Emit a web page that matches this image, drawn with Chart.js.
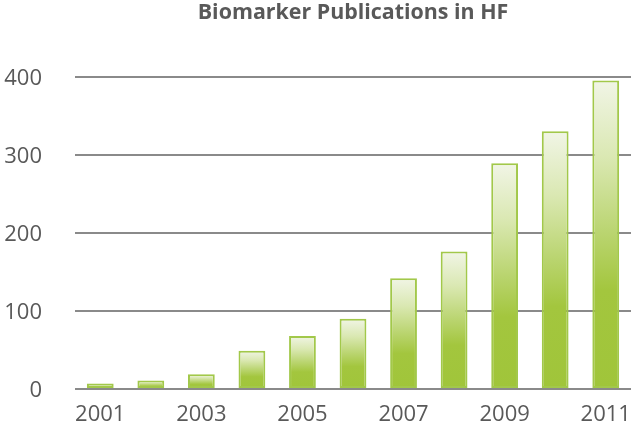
<!DOCTYPE html>
<html>
<head>
<meta charset="utf-8">
<script src="https://cdn.jsdelivr.net/npm/chart.js@4/dist/chart.umd.min.js"></script>
<style>
html,body{margin:0;padding:0;background:#fff;}
#wrap{width:636px;height:432px;position:relative;}
</style>
</head>
<body>
<div id="wrap"><canvas id="c" width="636" height="432"></canvas></div>
<script>
const years = ['2001','2002','2003','2004','2005','2006','2007','2008','2009','2010','2011'];
const publications = [7, 11, 19, 49, 68, 90, 142, 176, 289, 330, 395];
const yTicks = [0, 100, 200, 300, 400];
const shownYearLabels = ['2001','2003','2005','2007','2009','2011'];

function barGradient(ctx) {
  const chart = ctx.chart;
  const area = chart.chartArea;
  if (!area || ctx.raw === undefined) return '#A3C63E';
  const ys = chart.scales.y;
  const top = ys.getPixelForValue(ctx.raw);
  const base = ys.getPixelForValue(0);
  if (!isFinite(top) || !isFinite(base) || base - top < 1) return '#A3C63E';
  const g = chart.ctx.createLinearGradient(0, top, 0, base);
  g.addColorStop(0, '#F1F5E6');
  g.addColorStop(0.25, '#DAE8B2');
  g.addColorStop(0.5, '#B9D46E');
  g.addColorStop(0.68, '#A3C63E');
  g.addColorStop(1, '#A0C53A');
  return g;
}

new Chart(document.getElementById('c'), {
  type: 'bar',
  data: {
    labels: years,
    datasets: [{
      data: publications,
      backgroundColor: barGradient,
      borderColor: '#A2C84A',
      borderWidth: 2,
      borderSkipped: false,
      barPercentage: 0.53,
      categoryPercentage: 1.0
    }]
  },
  options: {
    responsive: false,
    animation: false,
    devicePixelRatio: 1,
    layout: { padding: { top: 0, right: 5, left: 0, bottom: 0 } },
    plugins: {
      legend: { display: false },
      tooltip: { enabled: false },
      title: {
        display: true,
        fullSize: false,
        text: 'Biomarker Publications in HF',
        color: '#595959',
        font: { family: 'Open Sans', size: 21.4, weight: 'bold' },
        padding: { top: 0, bottom: 51 }
      }
    },
    scales: {
      x: {
        grid: { display: false, drawTicks: false },
        border: { display: false },
        ticks: {
          autoSkip: false,
          maxRotation: 0,
          color: '#595959',
          font: { family: 'Open Sans', size: 22 },
          padding: 13,
          callback: function(v, i) {
            const l = years[i];
            return shownYearLabels.includes(l) ? l : '';
          }
        },
        afterFit: function(s) {
          s.height = 43;
          s.paddingLeft = 0; s.paddingRight = 0;
          s.paddingTop = 0; s.paddingBottom = 0;
        }
      },
      y: {
        min: 0,
        max: 400,
        afterBuildTicks: function(s) { s.ticks = yTicks.map(v => ({ value: v })); },
        grid: { color: '#8a8a8a', lineWidth: 2, drawTicks: false },
        border: { display: false },
        ticks: {
          color: '#595959',
          font: { family: 'Open Sans', size: 22 },
          padding: 33,
          labelOffset: 2
        },
        afterFit: function(s) {
          s.width = 75;
          s.paddingTop = 0; s.paddingBottom = 0;
          s.paddingLeft = 0; s.paddingRight = 0;
        }
      }
    }
  }
});
</script>
</body>
</html>
